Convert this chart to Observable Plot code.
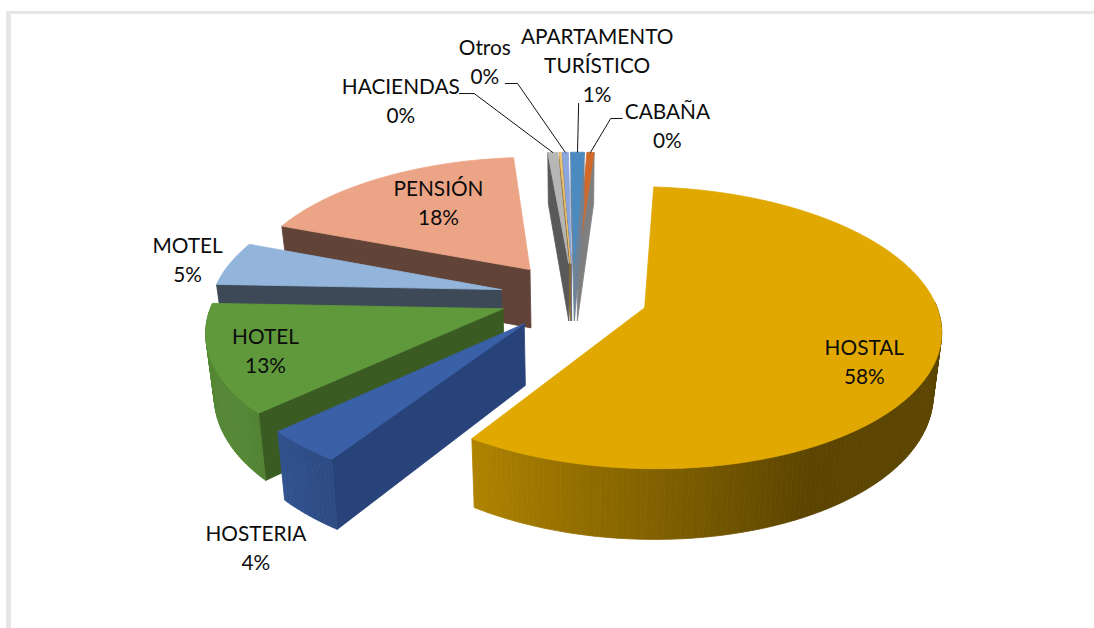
<!DOCTYPE html>
<html><head><meta charset="utf-8">
<script src="https://cdn.jsdelivr.net/npm/d3@7"></script>
<script src="https://cdn.jsdelivr.net/npm/@observablehq/plot@0.6"></script>
<style>
html,body{margin:0;padding:0;background:#fff;overflow:hidden}
#frame{position:absolute;left:6px;top:11px;width:1088px;height:617px;border-top:3px solid #e6e6e6;border-left:5px solid #e6e6e6;box-sizing:border-box}
#chart{position:absolute;left:0;top:0}
</style></head><body>
<div id="frame"></div><div id="chart"></div>
<script>
// Data: slices clockwise from the top of the pie, arc shares
const categories = ["HOSTAL","HOSTERIA","HOTEL","MOTEL","PENSIÓN","HACIENDAS","","Otros","APARTAMENTO\nTURÍSTICO","CABAÑA"];
const shares     = [58.28, 3.8, 12.59, 5.2, 17.83, 0.65, 0.12, 0.40, 0.87, 0.47];
const percentLabels = ["58%","4%","13%","5%","18%","0%","","0%","1%","0%"];

// Styles
const topColors  = ["#e0a800","#3a60a8","#5f993c","#93b5dc","#eca486","#b6b6b6","#f0c470","#8ba6dc","#4a8abf","#d2682a"];
const wallStart  = ["#5b4400","#28437a","#3a5c23","#3d4956","#624338","#595959","#8a6a30","#5c6678","#6d8297","#7f7f7f"];
const wallEnd    = ["#5b4400","#28437a","#3a5c23","#3d4956","#624338","#777777","#8a6a30","#5c6678","#6d8297","#7f7f7f"];
const drawOrder  = [9,8,7,6,5,4,3,2,1,0];

// Layout of the labels: polar position around the pie [degrees, radii]
const labelPolar = [[116.9,1.113],[209.8,2.181],[248.1,1.133],[281,1.342],[326,.824],[337.8,1.56],null,[350.1,1.761],[2.7,1.712],[14.3,1.297]];
const leaderPolar = {5:[[345.5,1.553],[347.3,1.541]],7:[[351.6,1.595],[353.1,1.59]],8:[[.7,1.429]],9:[[7.2,1.328],[5.5,1.323]]};

// View
const W = 1094, H = 628, cx = 573, cy = 296, B = 289, A = 135;
const startAngle = 4, explode = 0.257, persp = 0.14, depth = 60 / A, taper = 0.023;
const rad = d => d * Math.PI / 180;

function project(X, Y, z = 0) {
  const p = 1 / (1 - persp * Y);
  return {x: X * p * (1 - taper * z), y: (Y + depth * z) * p};
}
const total = d3.sum(shares);
let acc = startAngle;
const slices = shares.map((s, i) => {
  const a0 = acc, a1 = acc + s / total * 360; acc = a1;
  const mid = (a0 + a1) / 2;
  return {i, a0, a1, mid, ox: explode * Math.sin(rad(mid)), oy: -explode * Math.cos(rad(mid))};
});
const outer = (s, a, z) => project(s.ox + Math.sin(rad(a)), s.oy - Math.cos(rad(a)), z);
const apex = (s, z) => project(s.ox, s.oy, z);

const rimShade = d3.scaleLinear().domain([153, 213, 232, 300]).range([0.41, 0.78, 0.88, 0.9]).clamp(true);
const shade = (c, f) => { const r = d3.rgb(c); return d3.rgb(r.r * f, r.g * f, r.b * f).formatHex(); };

const rows = [];
let faceId = 0;
function face(points, color) { const id = faceId++; for (const p of [...points, points[0]]) rows.push({x: p.x, y: p.y, id, color}); }

for (const k of drawOrder) {
  const s = slices[k];
  // radial walls turned to the viewer
  if (Math.sin(rad(s.a1)) > 0) face([apex(s,0), outer(s,s.a1,0), outer(s,s.a1,1), apex(s,1)], wallEnd[k]);
  if (Math.sin(rad(s.a0)) < 0) face([apex(s,0), outer(s,s.a0,0), outer(s,s.a0,1), apex(s,1)], wallStart[k]);
  // curved rim (only the part turned to the viewer), shaded along the arc
  const step = 1, n = Math.max(1, Math.ceil((s.a1 - s.a0) / step));
  const arcs = d3.range(n + 1).map(j => s.a0 + (s.a1 - s.a0) * j / n);
  d3.pairs(arcs).forEach(([a, b]) => {
    if (b < 88 || b > 273) return;
    face([outer(s,a,0), outer(s,b,0), outer(s,b,1), outer(s,a,1)], shade(topColors[k], rimShade((a + b) / 2)));
  });
  // top surface
  const fine = d3.range(0, Math.ceil(s.a1 - s.a0) * 2 + 1).map(j => s.a0 + (s.a1 - s.a0) * j / (Math.ceil(s.a1 - s.a0) * 2 || 1));
  face([apex(s,0), ...fine.map(a => outer(s,a,0))], topColors[k]);
}

const polar = ([a, r]) => ({x: r * Math.sin(rad(a)) * 293 / B, y: -r * Math.cos(rad(a)) * 134 / A - 1.5 / A});
const textRows = categories.map((c, i) => labelPolar[i] && ({...polar(labelPolar[i]), text: c + "\n" + percentLabels[i]})).filter(Boolean);
const leaders = [];
for (const [k, pts] of Object.entries(leaderPolar)) {
  const s = slices[+k];
  [...pts.map(polar), outer(s, s.mid, 0)].forEach(p => leaders.push({x: p.x, y: p.y, k}));
}

const plot = Plot.plot({
  width: W, height: H, margin: 0,
  style: {background: "transparent"},
  x: {domain: [-cx / B, (W - cx) / B], range: [0, W], axis: null},
  y: {domain: [-cy / A, (H - cy) / A], range: [0, H], axis: null},
  color: {type: "identity"},
  marks: [
    Plot.line(rows, {x: "x", y: "y", z: "id", fill: "color", stroke: "color", strokeWidth: 0.8, curve: "linear"}),
    Plot.line(leaders, {x: "x", y: "y", z: "k", stroke: "#111", strokeWidth: 1, curve: "linear"}),
    Plot.text(textRows, {x: "x", y: "y", text: "text", fontFamily: "Lato", fontSize: 20.8, lineHeight: 1.39, fill: "#0c0c0c", textAnchor: "middle", lineAnchor: "middle", dy: -2})
  ]
});
document.getElementById("chart").appendChild(plot);
</script>
</body></html>
